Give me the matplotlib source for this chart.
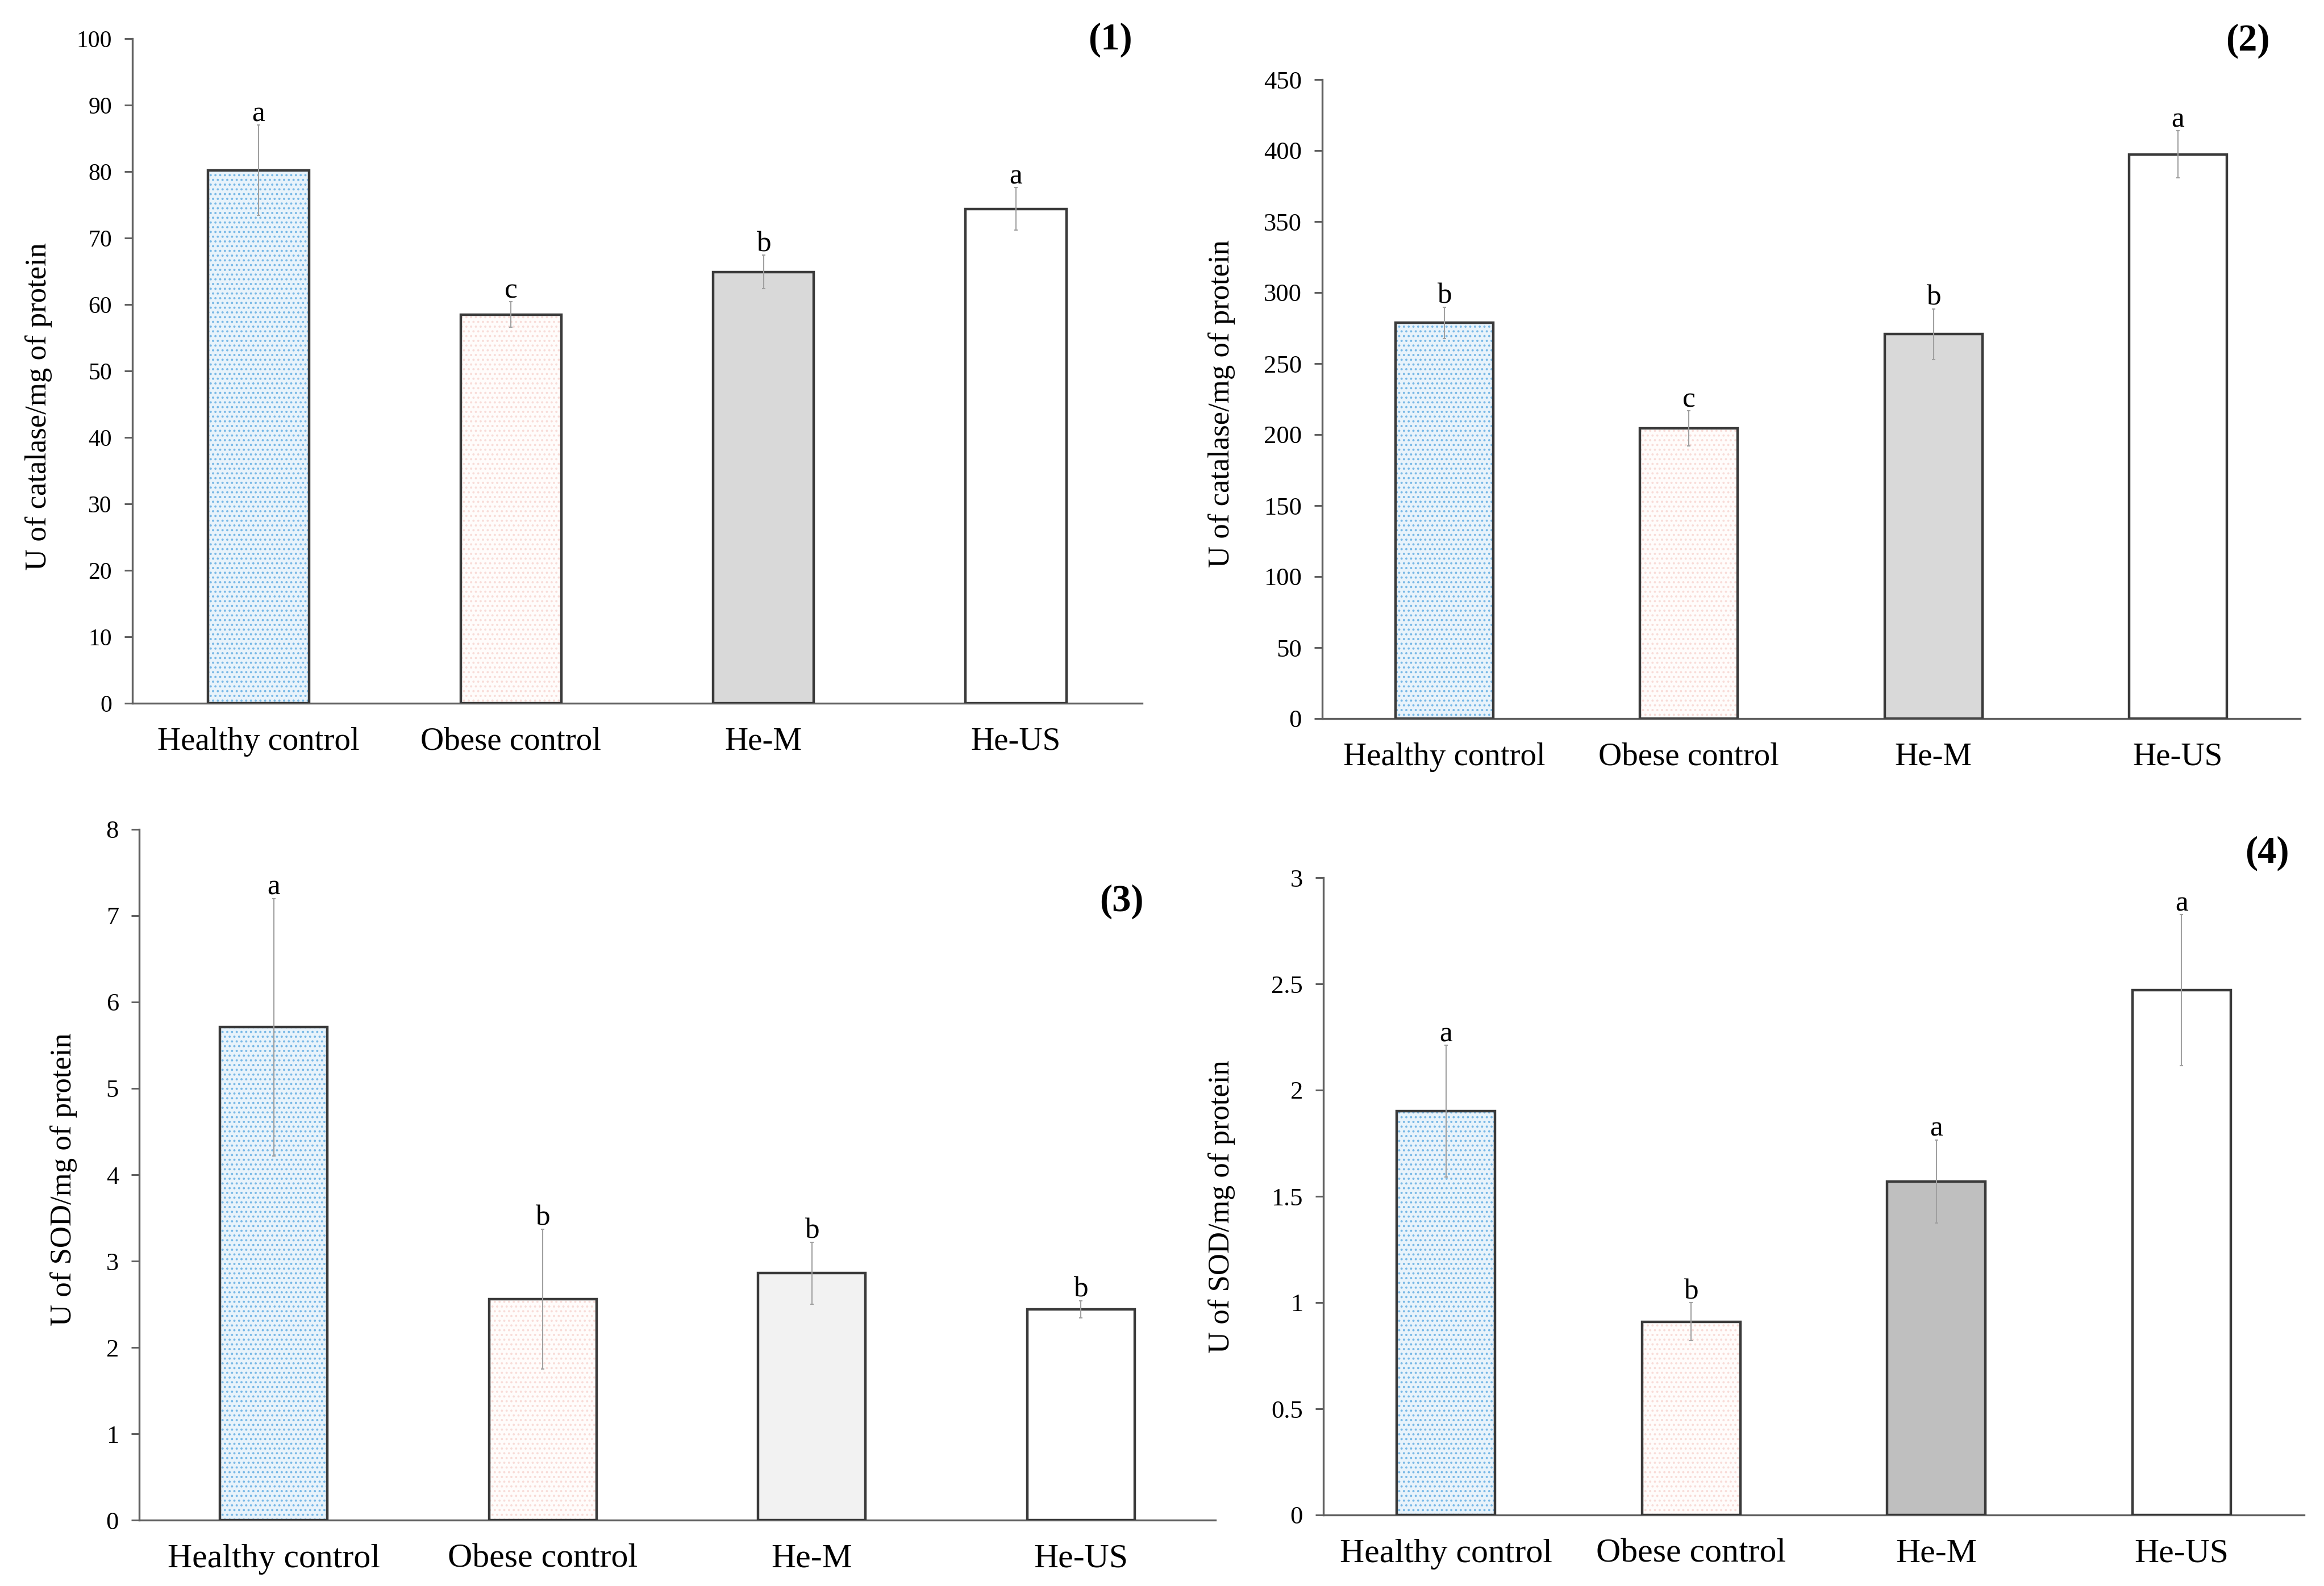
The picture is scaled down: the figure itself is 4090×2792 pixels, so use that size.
import matplotlib
matplotlib.use("Agg")
import matplotlib.pyplot as plt
from matplotlib.ticker import MultipleLocator, FuncFormatter

# data
groups = ["Healthy control", "Obese control", "He-M", "He-US"]

cat_liver_mean = [80.2, 58.5, 64.9, 74.4]
cat_liver_err = [6.8, 1.9, 2.5, 3.2]
cat_liver_letters = ["a", "c", "b", "a"]

cat_kidney_mean = [278.8, 204.3, 270.8, 397.4]
cat_kidney_err = [11.0, 12.4, 17.8, 16.5]
cat_kidney_letters = ["b", "c", "b", "a"]

sod_liver_mean = [5.71, 2.56, 2.86, 2.44]
sod_liver_err = [1.49, 0.81, 0.36, 0.10]
sod_liver_letters = ["a", "b", "b", "b"]

sod_kidney_mean = [1.90, 0.91, 1.57, 2.47]
sod_kidney_err = [0.31, 0.09, 0.195, 0.355]
sod_kidney_letters = ["a", "b", "a", "a"]

# colours
edge_col = "#3a3a3a"
axis_col = "#606060"
err_col = "#a0a0a0"
healthy_face = "#e8f3fb"
healthy_dots = "#78b8e6"
obese_face = "#fffcfb"
obese_dots = "#f8dcd8"

plt.rcParams["font.family"] = ["Liberation Serif", "DejaVu Serif"]
plt.rcParams["hatch.linewidth"] = 1.6

W, H = 4091, 2792
fig = plt.figure(figsize=(W / 100, H / 100), dpi=100)


def px_box(left, right, top, bottom):
    return [left / W, 1 - bottom / H, (right - left) / W, (bottom - top) / H]


def draw_panel(box, means, errs, letters, ymax, step, ylabel, hem_col,
               lab_xy, tick_fs, cat_fs):
    ax = fig.add_axes(box)
    x = list(range(len(groups)))
    faces = [healthy_face, obese_face, hem_col, "white"]
    # dotted fills for the two control bars
    ax.bar(x[:2], means[:2], width=0.4, color=faces[:2],
           edgecolor=[healthy_dots, obese_dots], hatch="..", linewidth=0,
           zorder=2)
    ax.bar(x[2:], means[2:], width=0.4, color=faces[2:], linewidth=0,
           zorder=2)
    ax.bar(x, means, width=0.4, fill=False, edgecolor=edge_col,
           linewidth=3.2, zorder=3)
    ax.errorbar(x, means, yerr=errs, fmt="none", ecolor=err_col,
                elinewidth=1.5, capsize=2, capthick=1.5, zorder=4)
    for xi, m, e, t in zip(x, means, errs, letters):
        ax.annotate(t, xy=(xi, m + e), xytext=(0, 5),
                    textcoords="offset points", ha="center", va="baseline",
                    fontsize=37)

    ax.set_xlim(-0.5, 3.5)
    ax.set_ylim(0, ymax)
    ax.yaxis.set_major_locator(MultipleLocator(step))
    ax.yaxis.set_major_formatter(FuncFormatter(lambda v, p: f"{v:g}"))
    ax.set_xticks(x)
    ax.set_xticklabels(groups, fontsize=cat_fs)
    ax.tick_params(axis="x", length=0, pad=30)
    ax.tick_params(axis="y", direction="out", length=10, width=2.2,
                   color=axis_col, labelsize=tick_fs, pad=16)
    for s in ["top", "right"]:
        ax.spines[s].set_visible(False)
    for s in ["left", "bottom"]:
        ax.spines[s].set_color(axis_col)
        ax.spines[s].set_linewidth(2.4)
    ax.set_ylabel(ylabel, fontsize=38, va="center")
    ax.yaxis.set_label_coords(*lab_xy)
    return ax


draw_panel(px_box(233, 2010, 68, 1238), cat_liver_mean, cat_liver_err,
           cat_liver_letters, 100, 10, "U of catalase/mg of protein",
           "#d9d9d9", (-0.093, 0.447), 30, 41)
draw_panel(px_box(2327, 4048, 140, 1265), cat_kidney_mean, cat_kidney_err,
           cat_kidney_letters, 450, 50, "U of catalase/mg of protein",
           "#d9d9d9", (-0.103, 0.493), 32, 41)
draw_panel(px_box(245, 2139, 1460, 2676), sod_liver_mean, sod_liver_err,
           sod_liver_letters, 8, 1, "U of SOD/mg of protein",
           "#f2f2f2", (-0.070, 0.493), 32, 43)
draw_panel(px_box(2329, 4055, 1545, 2667), sod_kidney_mean, sod_kidney_err,
           sod_kidney_letters, 3, 0.5, "U of SOD/mg of protein",
           "#bfbfbf", (-0.104, 0.484), 32, 43)

# panel tags
fig.text(1993 / W, 1 - 70 / H, "(1)", ha="right", va="center",
         fontsize=48, fontweight="bold")
fig.text(3995 / W, 1 - 72 / H, "(2)", ha="right", va="center",
         fontsize=48, fontweight="bold")
fig.text(2013 / W, 1 - 1587 / H, "(3)", ha="right", va="center",
         fontsize=48, fontweight="bold")
fig.text(4029 / W, 1 - 1502 / H, "(4)", ha="right", va="center",
         fontsize=48, fontweight="bold")

fig.savefig("out.png", dpi=100, facecolor="white")
